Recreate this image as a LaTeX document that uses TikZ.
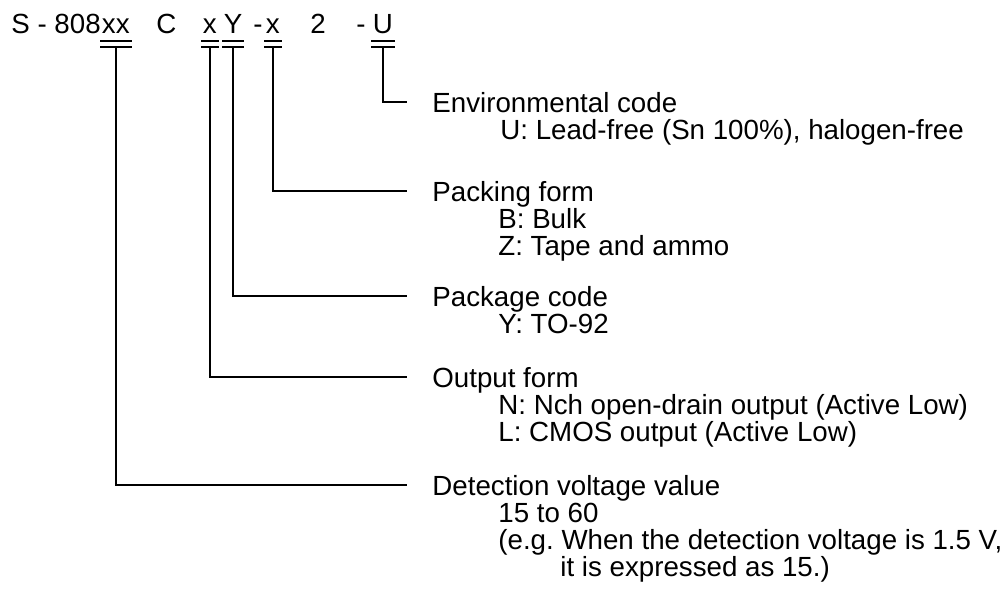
\documentclass[tikz,border=0pt]{standalone}
\usepackage{fontspec}
\setmainfont{Liberation Sans}
\usepackage{tikz}
\usetikzlibrary{calc,positioning}
\tikzset{%
    code/.style={%
        anchor=base west, inner xsep=0.75pt, inner ysep=5.25pt, text height=9.5pt, text depth=0pt
    },
    txt/.style={%
        anchor=base west, inner sep=0pt
    },
    bars/.style={%
        double, double distance=2.4pt, line width=1pt
    },
    head/.style={%
        anchor=base west, inner xsep=12.5pt, inner ysep=0pt, text height=9.8pt, text depth=0pt
    },
    item/.style={%
        anchor=base west, inner sep=0pt
    },
    link/.style={%
        line width=0.8pt
    },
}
\begin{document}
\begin{tikzpicture}[x=0.5pt, y=-0.5pt, font=\fontsize{13.85pt}{13.5pt}\selectfont]

    \useasboundingbox (0,0) rectangle (1008,590);

    % product name
    \node[txt] (prefix) at (11,33) {S - 808};
    \node[code] (xx) at (100,33) {xx};
    \node[txt] (c) at (156,33) {C};
    \node[code] (outx) at (201,33) {x};
    \node[code] (pkgy) at (222,33) {Y};
    \node[txt] (dash1) at (253,33) {-};
    \node[code] (packx) at (264,33) {x};
    \node[txt] (two) at (310,33) {2};
    \node[txt] (dash2) at (356,33) {-};
    \node[code] (envu) at (371,33) {U};

    \begin{scope}
      \node[head] (envhead) at (407,112) {Environmental code};
      \node[item] (envitem) at (500,139) {U: Lead-free (Sn 100\%), halogen-free};
      \draw[link] (envu.south) |- (envhead.west);
    \end{scope}

    \begin{scope}
      \node[head] (packhead) at (407,201) {Packing form};
      \node[item] (packb) at (498,228) {B: Bulk};
      \node[item] (packz) at (498,255) {Z: Tape and ammo};
      \draw[link] (packx.south) |- (packhead.west);
    \end{scope}

    \begin{scope}
      \node[head] (pkghead) at (407,306) {Package code};
      \node[item] (pkgitem) at (498,333) {Y: TO-92};
      \draw[link] (pkgy.south) |- (pkghead.west);
    \end{scope}

    \begin{scope}
      \node[head] (outhead) at (407,387) {Output form};
      \node[item] (outn) at (498,414) {N: Nch open-drain output (Active Low)};
      \node[item] (outl) at (498,441) {L: CMOS output (Active Low)};
      \draw[link] (outx.south) |- (outhead.west);
    \end{scope}

    \begin{scope}
      \node[head] (dethead) at (407,495) {Detection voltage value};
      \node[item] (detrange) at (498,522) {15 to 60};
      \node[item] (deteg) at (498,549) {(e.g.\ When the detection voltage is 1.5 V,};
      \node[item] (detegb) at (560,576) {it is expressed as 15.)};
      \draw[link] (xx.south) |- (dethead.west);
    \end{scope}

    \draw[bars] (xx.south west) -- (xx.south east);
    \draw[bars] (outx.south west) -- (outx.south east);
    \draw[bars] (pkgy.south west) -- (pkgy.south east);
    \draw[bars] (packx.south west) -- (packx.south east);
    \draw[bars] (envu.south west) -- (envu.south east);

  \end{tikzpicture}
\end{document}
